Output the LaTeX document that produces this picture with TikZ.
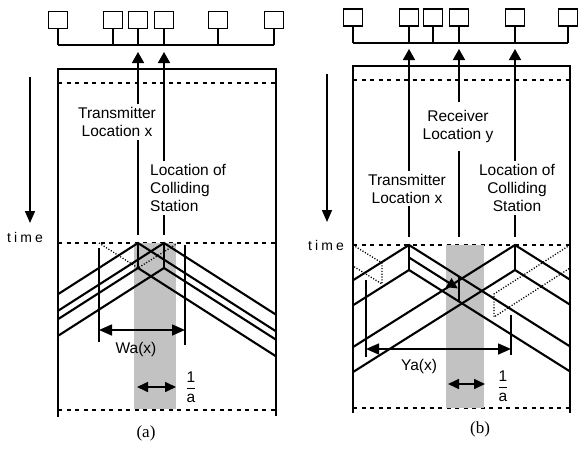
\documentclass[tikz,border=0pt]{standalone}
\usepackage{fontspec}
\setmainfont{Liberation Serif}
\newfontfamily\helv{Liberation Sans}
\newfontfamily\helvspaced[LetterSpace=22]{Liberation Sans}
\usetikzlibrary{arrows.meta}

\begin{document}
\begin{tikzpicture}[
    x=1pt, y=-1pt,
    station/.style={draw, line width=1.4pt, minimum width=19pt,
                    minimum height=17pt, inner sep=0pt},
    wire/.style={line width=1.6pt},
    wave/.style={line width=2.1pt},
    guide/.style={line width=1.1pt, dash pattern=on 4pt off 4.5pt},
    echo/.style={line width=1.3pt, dash pattern=on 1.1pt off 1.7pt},
    uparrow/.style={wire, -{Triangle[length=11pt, width=12pt]}},
    timearrow/.style={wire, -{Triangle[length=12pt, width=10pt]}},
    spanarrow/.style={wire, {Triangle[length=13pt, width=11pt]}-{Triangle[length=13pt, width=11pt]}},
    smallarrow/.style={wire, {Triangle[length=11pt, width=10pt]}-{Triangle[length=11pt, width=10pt]}},
    band/.style={fill=black!24},
    lbl/.style={font=\helv\fontsize{15.5}{18}\selectfont, align=center,
                inner xsep=1pt, inner ysep=3pt},
    tlabel/.style={font=\helvspaced\fontsize{14}{16}\selectfont, inner sep=0pt},
    caption/.style={font=\fontsize{17}{19}\selectfont},
  ]
    \useasboundingbox (0,0) rectangle (579,453);

    % ---------------- (a) ----------------
    \coordinate (busa) at (0,45);
    \foreach \n/\sx in {1/58, 2/113, 3/138, 4/164, 5/218, 6/274}
      \node[station] (sa\n) at (\sx,20) {};
    \draw[wire] (sa1.south |- busa) -- (sa6.south |- busa);
    \foreach \n in {1,...,6}
      \draw[wire] (sa\n.south) -- (sa\n.south |- busa);

    % frame and time marks
    \draw[wire] (58,417) -- (58,69) -- (276,69) -- (276,416);
    \draw[guide] (58,83) -- (276,83);
    \draw[guide] (58,243) -- (276,243);
    \draw[guide] (58,410) -- (276,410);
    \draw[timearrow] (30,77) -- (30,223);
    \node[tlabel] (timea) at (25,237) {time};

    % window of width 1/a
    \fill[band] (134,243) rectangle (176,409);

    % stations x and colliding
    \coordinate (ta) at (138,243);
    \coordinate (ca) at (164,243);
    \node[lbl] (txa) at (117,122) {Transmitter\\Location x};
    \node[lbl, align=left, anchor=west] (cxa) at (149,188) {Location of\\Colliding\\Station};
    \draw[uparrow] (txa.north -| ta) -- ([yshift=-7pt]sa3.south |- busa);
    \draw[wire] (txa.south -| ta) -- ([yshift=8pt]ta);
    \draw[uparrow] (cxa.north -| ca) -- ([yshift=-7pt]sa4.south |- busa);
    \draw[wire] (cxa.south -| ca) -- ([yshift=8pt]ca);

    % packets
    \foreach \sx in {138,164} {
      \draw[wave] (58,{243+(\sx-58)*0.64}) -- (\sx,243) -- (276,{243+(276-\sx)*0.64});
      \draw[wave] (58,{268+(\sx-58)*0.64}) -- (\sx,268) -- (276,{268+(276-\sx)*0.64});
      \draw[wave] (\sx,243) -- (\sx,268);
    }
    \draw[echo] (99,243) -- (138,268) -- (178,243);

    % Wa(x)
    \draw[wire] (99,248) -- (99,342);
    \draw[wire] (185,245) -- (185,345);
    \coordinate (wal) at (99,330);
    \coordinate (war) at (185,330);
    \draw[spanarrow] (wal) -- (war);
    \node[lbl] (wa) at (136,349) {Wa(x)};

    % 1/a
    \coordinate (ial) at (137,387);
    \coordinate (iar) at (176,387);
    \draw[smallarrow] (ial) -- (iar);
    \node[lbl] (fa) at (191,387) {$\displaystyle\frac{\mbox{1}}{\mbox{a}}$};
    \node[caption] (capa) at (146,433) {(a)};

    % ---------------- (b) ----------------
    \coordinate (busb) at (0,43);
    \foreach \n/\sx in {1/353, 2/409, 3/433, 4/459, 5/515, 6/568}
      \node[station] (sb\n) at (\sx,17.5) {};
    \draw[wire] (sb1.south |- busb) -- (sb6.south |- busb);
    \foreach \n in {1,...,6}
      \draw[wire] (sb\n.south) -- (sb\n.south |- busb);

    % frame and time marks
    \draw[wire] (353,413) -- (353,66) -- (570,66) -- (570,413);
    \draw[guide] (353,80) -- (570,80);
    \draw[guide] (353,245) -- (570,245);
    \draw[guide] (353,408) -- (570,408);
    \draw[timearrow] (327,74) -- (327,222);
    \node[tlabel] (timeb) at (326,245) {time};

    % window of width 1/a
    \fill[band] (446,245) rectangle (484,408);

    % transmitter, receiver, colliding
    \coordinate (tb) at (409,245);
    \coordinate (rb) at (459,245);
    \coordinate (cb) at (515,245);
    \node[lbl] (txb) at (407,188.5) {Transmitter\\Location x};
    \node[lbl, inner ysep=8pt] (rxb) at (458,126.5) {Receiver\\Location y};
    \node[lbl] (cxb) at (517,188) {Location of\\Colliding\\Station};
    \draw[uparrow] (txb.north -| tb) -- ([yshift=-6pt]sb2.south |- busb);
    \draw[wire] (txb.south -| tb) -- ([yshift=8pt]tb);
    \draw[uparrow] (rxb.north -| rb) -- ([yshift=-6pt]sb4.south |- busb);
    \draw[wire] (rxb.south -| rb) -- ([yshift=8pt]rb);
    \draw[uparrow] (cxb.north -| cb) -- ([yshift=-6pt]sb5.south |- busb);
    \draw[wire] (cxb.south -| cb) -- ([yshift=8pt]cb);

    % packets
    \foreach \sx in {409,515} {
      \draw[wave] (353,{245+(\sx-353)*0.63}) -- (\sx,245) -- (570,{245+(570-\sx)*0.63});
      \draw[wave] (353,{270+(\sx-353)*0.63}) -- (\sx,270) -- (570,{270+(570-\sx)*0.63});
      \draw[wave] (\sx,245) -- (\sx,270);
    }
    \draw[echo] (353,245) -- (382,263) -- (382,284) -- (353,266);
    \draw[echo] (570,245) -- (494,294) -- (494,317) -- (570,268);
    \draw[wave] (459,277) -- (459,301);
    \draw[wave, -{Triangle[length=11pt, width=10pt]}] (409,257.5) -- (458,288.5);

    % Ya(x)
    \draw[wire] (366,280) -- (366,357);
    \draw[wire] (511,315) -- (511,355);
    \coordinate (yal) at (366,349);
    \coordinate (yar) at (511,349);
    \draw[spanarrow] (yal) -- (yar);
    \node[lbl] (ya) at (419,366) {Ya(x)};

    % 1/a
    \coordinate (ibl) at (448,384);
    \coordinate (ibr) at (485,384);
    \draw[smallarrow] (ibl) -- (ibr);
    \node[lbl] (fb) at (503,386) {$\displaystyle\frac{\mbox{1}}{\mbox{a}}$};
    \node[caption] (capb) at (480,429) {(b)};
  \end{tikzpicture}
\end{document}
